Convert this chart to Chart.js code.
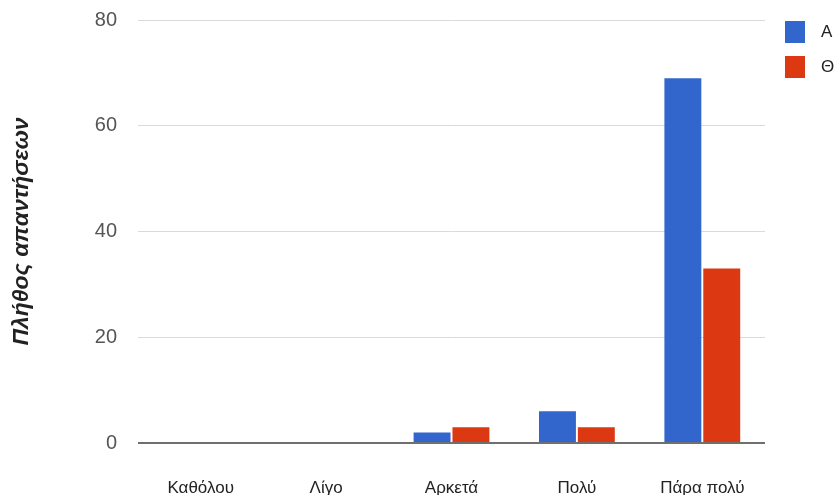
<!DOCTYPE html>
<html>
<head>
<meta charset="utf-8">
<script src="https://cdn.jsdelivr.net/npm/chart.js@4"></script>
<style>
  html, body { margin: 0; padding: 0; background: #fff; }
  #wrap { width: 838px; height: 495px; }
</style>
</head>
<body>
<div id="wrap"><canvas id="c" width="838" height="495"></canvas></div>
<script>
// Answer categories and counts per group
const categories = ['Καθόλου', 'Λίγο', 'Αρκετά', 'Πολύ', 'Πάρα πολύ'];
const seriesNames = ['Α', 'Θ'];
const valuesA = [0, 0, 2, 6, 69];
const valuesTheta = [0, 0, 3, 3, 33];
const yTicks = [0, 20, 40, 60, 80];
const yTitle = 'Πλήθος απαντήσεων';

const colors = ['#3366cc', '#dc3912'];

// Legend drawn in the right margin, one coloured square per series
const sideLegend = {
  id: 'sideLegend',
  afterDraw(chart) {
    const ctx = chart.ctx;
    ctx.save();
    chart.data.datasets.forEach((ds, i) => {
      const y = 21 + i * 35;
      ctx.fillStyle = ds.backgroundColor;
      ctx.fillRect(785, y, 20, 22);
      ctx.fillStyle = '#222';
      ctx.font = '17px "Liberation Sans", Arial, sans-serif';
      ctx.textBaseline = 'middle';
      ctx.textAlign = 'left';
      ctx.fillText(ds.label, 821, y + 11);
    });
    ctx.restore();
  }
};

new Chart(document.getElementById('c'), {
  type: 'bar',
  data: {
    labels: categories,
    datasets: [
      { label: seriesNames[0], data: valuesA, backgroundColor: colors[0] },
      { label: seriesNames[1], data: valuesTheta, backgroundColor: colors[1] }
    ]
  },
  options: {
    responsive: false,
    animation: false,
    events: [],
    layout: { padding: { top: 20, right: 73, left: 0, bottom: 0 } },
    datasets: {
      bar: { categoryPercentage: 0.62, barPercentage: 0.95, borderWidth: 0 }
    },
    plugins: {
      legend: { display: false },
      tooltip: { enabled: false }
    },
    scales: {
      x: {
        grid: { display: false, drawTicks: false },
        border: { display: false },
        ticks: {
          color: '#222',
          padding: 35,
          font: { family: '"Liberation Sans", Arial, sans-serif', size: 17 }
        },
        afterFit(scale) { scale.height = 52; scale.paddingLeft = 0; scale.paddingRight = 0; }
      },
      y: {
        min: 0,
        max: 80,
        afterBuildTicks(scale) { scale.ticks = yTicks.map(v => ({ value: v })); },
        grid: {
          drawTicks: false,
          color: ctx => (ctx.tick && ctx.tick.value === 0 ? '#6f6f6f' : '#dadada'),
          lineWidth: ctx => (ctx.tick && ctx.tick.value === 0 ? 2 : 1)
        },
        border: { display: false },
        ticks: {
          color: '#555',
          padding: 21,
          font: { family: '"Liberation Sans", Arial, sans-serif', size: 20 }
        },
        title: {
          display: true,
          text: yTitle,
          color: '#222',
          padding: { top: 8, bottom: 0 },
          font: { family: '"Liberation Sans", Arial, sans-serif', size: 23, weight: 'bold', style: 'italic' }
        },
        afterFit(scale) { scale.width = 138; scale.paddingTop = 0; scale.paddingBottom = 0; }
      }
    }
  },
  plugins: [sideLegend]
});
</script>
</body>
</html>
